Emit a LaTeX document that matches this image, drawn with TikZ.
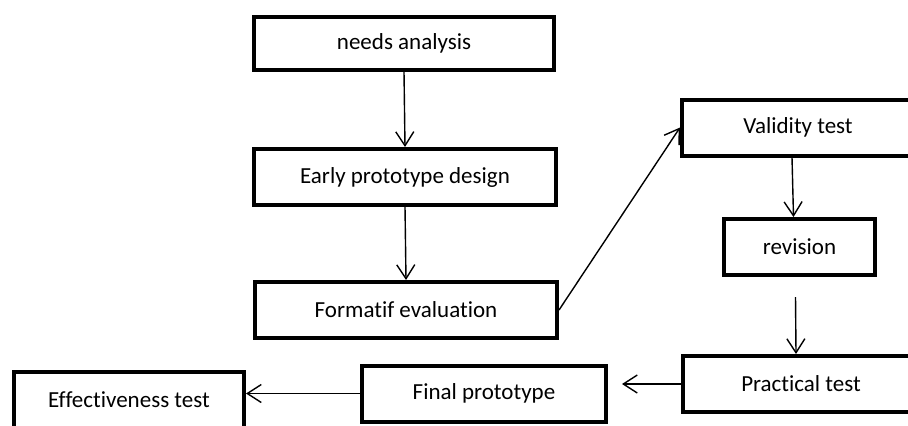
\documentclass[tikz,border=0pt]{standalone}
\usepackage{fontspec}
\setmainfont[Ligatures=NoCommon]{Carlito}
\usetikzlibrary{arrows.meta}
\tikzset{box/.style={draw,line width=2pt,minimum height=28pt,inner sep=0pt,font=\fontsize{11.5}{14}\selectfont},
conn/.style={-{Straight Barb[length=7pt,width=9pt]},line width=0.7pt}}
\begin{document}
\begin{tikzpicture}[x=0.5pt,y=-0.5pt]
\clip (0,0) rectangle (908,425);
\fill[white] (0,0) rectangle (908,425);
\node[box,minimum width=150pt,minimum height=26.5pt] (needs)at(404,43.5){needs analysis};
\node[box,minimum width=151pt] (early)at(405,177){Early prototype design};
\node[box,minimum width=151pt] (formatif)at(406,310){Formatif evaluation};
\node[box,minimum width=116pt] (validity)at(798,127.5){Validity test};
\node[box,minimum width=75.5pt] (revision)at(799.5,247){revision};
\node[box,minimum width=118pt] (practical)at(801,384){Practical test};
\node[box,minimum width=122pt] (final)at(484,393.5){Final prototype};
\node[box,minimum width=115pt] (effect)at(129,400){Effectiveness test};
\coordinate (ftip) at ([xshift=7pt]final.east);
\draw [conn] (needs.south)--(early.north);
\draw [conn] (early.south)--(formatif.north);
\draw [conn] (formatif.east)--(validity.west);
\draw [conn] ([xshift=-3pt]validity.south)--([xshift=-3pt]revision.north);
\draw [conn] ([xshift=-2pt,yshift=-10pt]revision.south)--([xshift=-2.5pt]practical.north);
\draw [conn] (practical.west)--(ftip |- practical.west);
\draw [conn] (final.west)--(effect.east |- final.west);
\end{tikzpicture}
\end{document}
